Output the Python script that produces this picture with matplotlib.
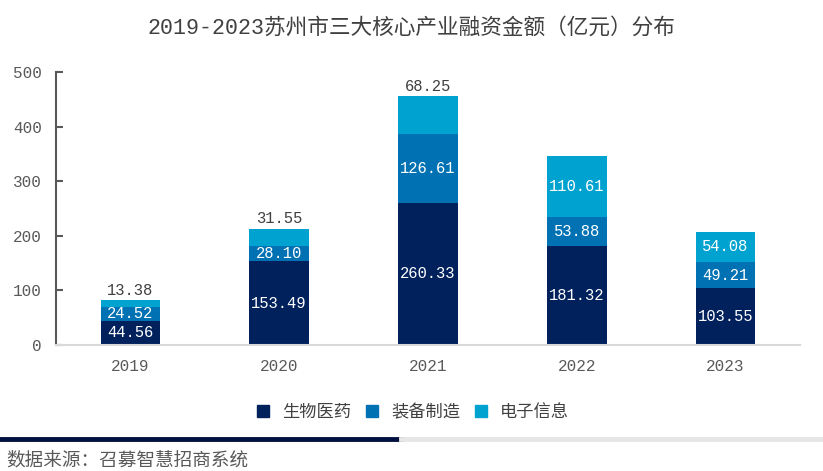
import matplotlib
matplotlib.use('Agg')
import matplotlib.pyplot as plt
import numpy as np
from matplotlib.lines import Line2D

plt.rcParams['font.family'] = ['Liberation Mono', 'Noto Sans CJK SC', 'DejaVu Sans']

years = ['2019', '2020', '2021', '2022', '2023']
bio = [44.56, 153.49, 260.33, 181.32, 103.55]
equip = [24.52, 28.10, 126.61, 53.88, 49.21]
elec = [13.38, 31.55, 68.25, 110.61, 54.08]
names = ['生物医药', '装备制造', '电子信息']
colors = ['#00215C', '#0071B3', '#00A2CF']
# top label outside the bar for these years
outside = [True, True, True, False, False]

fig = plt.figure(figsize=(8.23, 4.71), dpi=100)
ax = fig.add_axes([0.068, 0.2675, 0.904, 0.5796])

x = np.arange(len(years))
w = 0.40
ax.bar(x, bio, w, color=colors[0])
ax.bar(x, equip, w, bottom=bio, color=colors[1])
bot3 = np.array(bio) + np.array(equip)
ax.bar(x, elec, w, bottom=bot3, color=colors[2])

lab_fs = 11.2
for i in range(len(years)):
    ax.text(x[i], bio[i] / 2, f'{bio[i]:.2f}', ha='center', va='center',
            color='white', fontsize=lab_fs)
    ax.text(x[i], bio[i] + equip[i] / 2, f'{equip[i]:.2f}', ha='center',
            va='center', color='white', fontsize=lab_fs)
    top = bot3[i] + elec[i]
    if outside[i]:
        ax.text(x[i], top + 4, f'{elec[i]:.2f}', ha='center', va='bottom',
                color='#404040', fontsize=lab_fs)
    else:
        ax.text(x[i], bot3[i] + elec[i] / 2, f'{elec[i]:.2f}', ha='center',
                va='center', color='white', fontsize=lab_fs)

ax.set_xlim(-0.5, 4.5)
ax.set_ylim(0, 500)
ax.set_yticks([0, 100, 200, 300, 400, 500])
ax.set_xticks(x)
ax.set_xticklabels(years)
for s in ['top', 'right']:
    ax.spines[s].set_visible(False)
ax.spines['left'].set_color('#595959')
ax.spines['left'].set_linewidth(1.5)
ax.spines['bottom'].set_color('#D9D9D9')
ax.spines['bottom'].set_linewidth(1.5)
ax.tick_params(axis='y', direction='in', length=5, width=1.5, color='#595959',
               labelsize=11.5, labelcolor='#595959', pad=10)
ax.tick_params(axis='x', length=0, labelsize=11.5, labelcolor='#595959', pad=10)

fig.text(0.5, 0.94, '2019-2023苏州市三大核心产业融资金额（亿元）分布', ha='center',
         va='center', fontsize=15.6, color='#404040')

handles = [Line2D([], [], marker='s', linestyle='none', markersize=9,
                  markerfacecolor=c, markeredgecolor=c) for c in colors]
fig.legend(handles, names, loc='center', bbox_to_anchor=(0.495, 0.125), ncol=3,
           frameon=False, fontsize=12.4, handletextpad=0.1, columnspacing=0.2,
           labelcolor='#404040')

fig.add_artist(Line2D([0, 0.487], [0.068, 0.068], color='#00113F', lw=3.5,
                      transform=fig.transFigure))
fig.add_artist(Line2D([0.487, 1.0], [0.068, 0.068], color='#E6E6E6', lw=3.5,
                      transform=fig.transFigure))
fig.text(0.008, 0.022, '数据来源：召募智慧招商系统', ha='left', va='center',
         fontsize=13.4, color='#595959')

fig.savefig('out.png', dpi=100)
